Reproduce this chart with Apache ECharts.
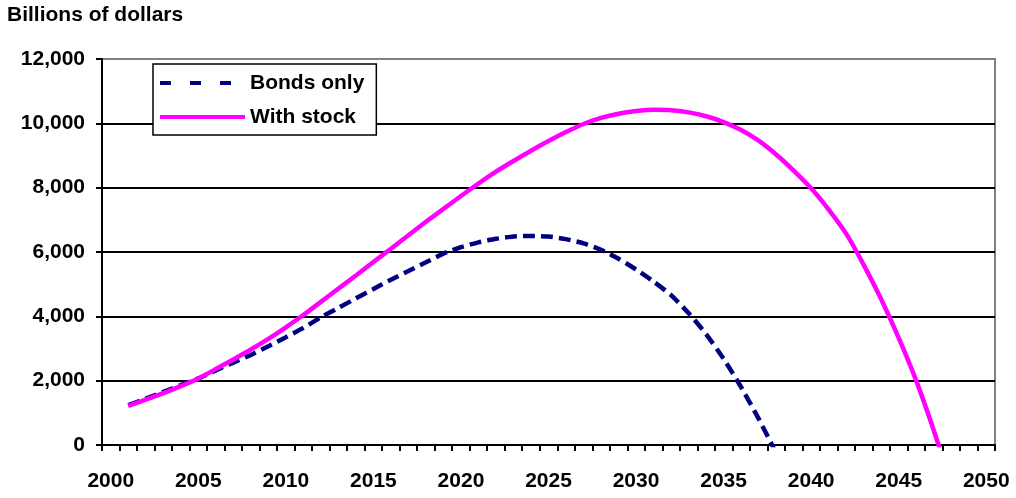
<!DOCTYPE html>
<html>
<head>
<meta charset="utf-8">
<script src="https://cdn.jsdelivr.net/npm/echarts@6/dist/echarts.min.js"></script>
<style>
  html, body { margin: 0; padding: 0; background: #fff; }
  #chart { width: 1016px; height: 498px; }
</style>
</head>
<body>
<div id="chart"></div>
<script>
// categories (years) on the x axis
const years = ['2000','2001','2002','2003','2004','2005','2006','2007','2008','2009',
  '2010','2011','2012','2013','2014','2015','2016','2017','2018','2019',
  '2020','2021','2022','2023','2024','2025','2026','2027','2028','2029',
  '2030','2031','2032','2033','2034','2035','2036','2037','2038','2039',
  '2040','2041','2042','2043','2044','2045','2046','2047','2048','2049','2050']

// billions of dollars (null = no value)
const bondsOnly = [null,
  1240, 1440, 1650, 1860, 2070, 2320, 2560, 2800, 3070, 3350,
  3640, 3970, 4260, 4560, 4850, 5140, 5410, 5680, 5950, 6150,
  6300, 6410, 6480, 6500, 6480, 6400, 6270, 6070, 5790, 5460,
  5080, 4660, 4100, 3450, 2680, 1800, 820, -250,
  null, null, null, null, null, null, null, null, null, null, null, null]

const withStock = [null,
  1220, 1410, 1610, 1830, 2070, 2360, 2660, 2970, 3300, 3660,
  4040, 4450, 4860, 5270, 5690, 6100, 6520, 6940, 7340, 7740,
  8130, 8500, 8830, 9150, 9450, 9730, 9980, 10170, 10300, 10380,
  10420, 10410, 10340, 10220, 10040, 9790, 9460, 9030, 8530, 7980,
  7320, 6570, 5600, 4530, 3330, 2000, 460, -1200,
  null, null]

const seriesNames = ['Bonds only', 'With stock']

const FONT = "'Liberation Sans', Arial, sans-serif"

const chart = echarts.init(document.getElementById('chart'), null, { renderer: 'canvas' })

const option = {
  backgroundColor: '#fff',
  animation: false,
  title: {
    text: 'Billions of dollars',
    left: 7,
    top: 5,
    padding: 0,
    textStyle: { fontFamily: FONT, fontSize: 21, fontWeight: 'bold', color: '#000' }
  },
  legend: {
    orient: 'vertical',
    left: 153,
    top: 64,
    padding: [8, 12, 7, 5],
    backgroundColor: '#fff',
    borderColor: '#000',
    borderWidth: 1.5,
    borderRadius: 0,
    itemWidth: 85,
    itemHeight: 14,
    itemGap: 12,
    itemTextGap: 4,
    itemStyle: { opacity: 0 },
    data: [
      { name: seriesNames[0], lineStyle: { type: [11, 19], width: 4 } },
      { name: seriesNames[1], lineStyle: { width: 4 } }
    ],
    textStyle: { fontFamily: FONT, fontSize: 21, fontWeight: 'bold', color: '#000', lineHeight: 22 }
  },
  grid: {
    left: 102,
    right: 21,
    top: 59,
    bottom: 53,
    show: true,
    borderColor: '#808080',
    borderWidth: 2,
    backgroundColor: '#fff'
  },
  xAxis: {
    type: 'category',
    data: years,
    boundaryGap: true,
    axisLine: { show: true, lineStyle: { color: '#000', width: 2 } },
    axisTick: { show: true, interval: 0, length: 6, lineStyle: { color: '#000', width: 2 } },
    axisLabel: {
      interval: 4,
      margin: 26,
      fontFamily: FONT,
      fontSize: 21,
      fontWeight: 'bold',
      color: '#000'
    },
    splitLine: { show: false }
  },
  yAxis: {
    type: 'value',
    min: 0,
    max: 12000,
    interval: 2000,
    axisLine: { show: true, lineStyle: { color: '#000', width: 2 } },
    axisTick: { show: true, length: 6, lineStyle: { color: '#000', width: 2 } },
    axisLabel: {
      margin: 17,
      fontFamily: FONT,
      fontSize: 21,
      fontWeight: 'bold',
      color: '#000',
      formatter: (v) => v.toLocaleString('en-US')
    },
    splitLine: {
      show: true,
      lineStyle: {
        // last line (12,000) is the grey plot border
        color: ['#000', '#000', '#000', '#000', '#000', '#000', '#808080'],
        width: 2
      }
    }
  },
  series: [
    {
      name: seriesNames[0],
      type: 'line',
      data: bondsOnly,
      symbol: 'none',
      smooth: 0.2,
      clip: true,
      z: 2,
      lineStyle: { color: '#000080', width: 4.5, type: [12, 6] },
      itemStyle: { color: '#000080' }
    },
    {
      name: seriesNames[1],
      type: 'line',
      data: withStock,
      symbol: 'none',
      smooth: 0.2,
      clip: true,
      z: 3,
      lineStyle: { color: '#ff00ff', width: 4.5 },
      itemStyle: { color: '#ff00ff' }
    }
  ]
}

chart.setOption(option)
</script>
</body>
</html>
